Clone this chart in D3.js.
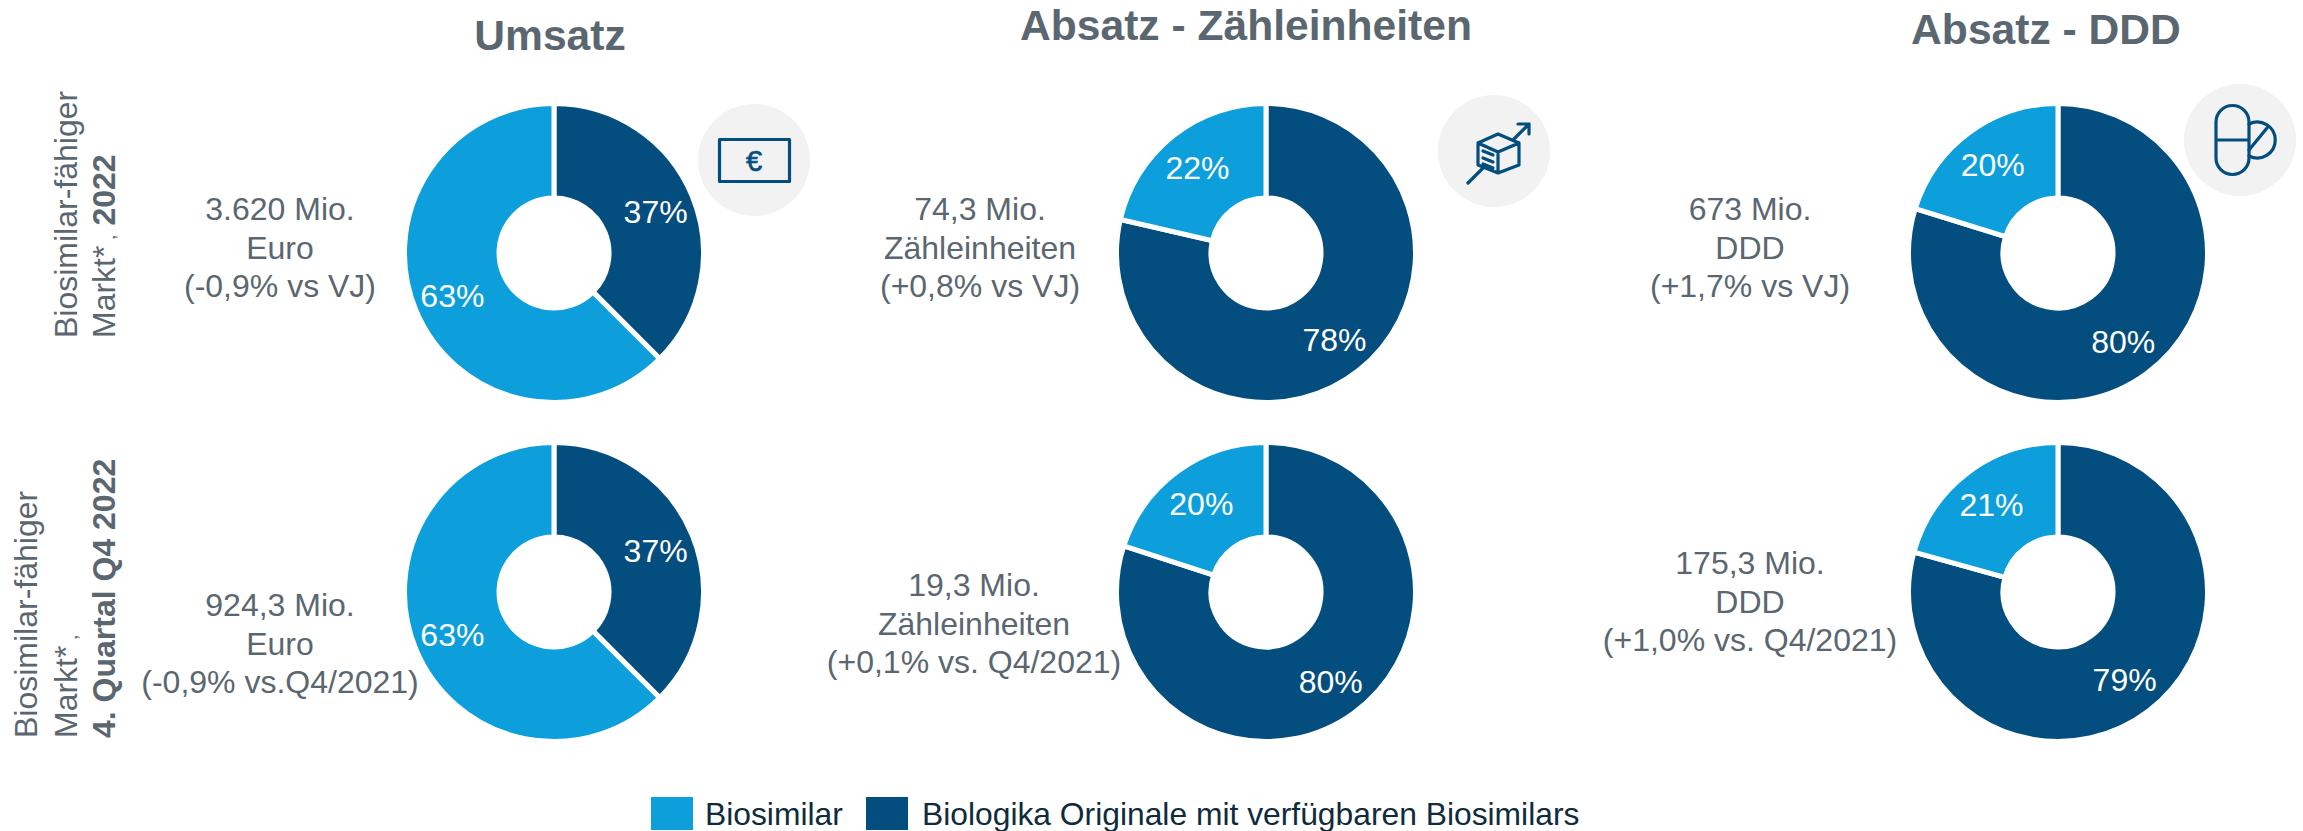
<!DOCTYPE html>
<html><head><meta charset="utf-8">
<script src="https://cdn.jsdelivr.net/npm/d3@7"></script>
<style>html,body{margin:0;padding:0;background:#fff}svg{display:block}text{font-family:"Liberation Sans",Arial,sans-serif}</style>
</head><body><svg id="c" width="2303" height="831"></svg>
<script>
const titles = ["Umsatz", "Absatz - Zähleinheiten", "Absatz - DDD"];
const legendLabels = ["Biosimilar", "Biologika Originale mit verfügbaren Biosimilars"];
const colors = ["#0c9fdc", "#034e7e"];
// printed percentages
const originalLabels2022 = [37, 78, 80];
const biosimilarLabels2022 = [63, 22, 20];
const originalLabelsQ4 = [37, 80, 79];
const biosimilarLabelsQ4 = [63, 20, 21];
// slice sizes
const originalSlices2022 = [37.5, 78.6, 79.8];
const originalSlicesQ4 = [37.5, 80, 79.3];
const notes2022 = [["3.620 Mio.", "Euro", "(-0,9% vs VJ)"], ["74,3 Mio.", "Zähleinheiten", "(+0,8% vs VJ)"], ["673 Mio.", "DDD", "(+1,7% vs VJ)"]];
const notesQ4 = [["924,3 Mio.", "Euro", "(-0,9% vs.Q4/2021)"], ["19,3 Mio.", "Zähleinheiten", "(+0,1% vs. Q4/2021)"], ["175,3 Mio.", "DDD", "(+1,0% vs. Q4/2021)"]];

const svg = d3.select("#c");
const grey = "#5b6770";
const colX = [554, 1266, 2058], rowY = [253, 592];
const titleY = [50, 40, 44], titleX = [550, 1246, 2046];
const noteX = [[280, 980, 1750], [280, 974, 1750]];
const noteY = [[220, 220, 220], [616, 596, 574]];
const noteStep = 38.5;
const R = 149.5, r = 55;

titles.forEach((t, i) => svg.append("text").attr("x", titleX[i]).attr("y", titleY[i])
  .attr("text-anchor", "middle").attr("font-size", 42.6).attr("font-weight", 700).attr("fill", grey).text(t));

// Icons
const ink = "#034e7e";
const iconCircles = [[754, 160], [1494, 151], [2240, 140]];
iconCircles.forEach(c => svg.append("circle").attr("cx", c[0]).attr("cy", c[1]).attr("r", 56).attr("fill", "#f2f2f2"));
const ic = svg.append("g").attr("fill", "none").attr("stroke", ink).attr("stroke-width", 3.2).attr("stroke-linejoin", "round").attr("stroke-linecap", "round");
ic.append("rect").attr("x", 719.5).attr("y", 139.5).attr("width", 70).attr("height", 42);
svg.append("text").attr("x", 754).attr("y", 171).attr("text-anchor", "middle").attr("font-size", 29).attr("fill", ink).attr("stroke", ink).attr("stroke-width", 0.6).text("€");
// box with arrow
ic.append("path").attr("d", "M1478 143L1498 134L1519 143L1519 165L1498 173L1478 165Z M1478 143L1498 152L1519 143 M1498 152L1498 173 M1483 151L1493 155 M1483 158L1493 162 M1483 164L1493 168");
ic.append("path").attr("d", "M1468 183L1483 168 M1513 140L1529 124 M1518 124L1529 124L1529 134");
// pill
ic.append("path").attr("d", "M2216 122A16.500 16.500 0 0 1 2249 122L2249 158A16.500 16.500 0 0 1 2216 158Z M2216 140L2249 140");
ic.append("path").attr("d", "M2249 124A18 18 0 1 1 2249 156 M2249 150L2267 128");

// Pies
const pie = d3.pie().sort(null).value(d => d.v);
const arc = d3.arc().innerRadius(r).outerRadius(R);
const labelArc = d3.arc().innerRadius(110).outerRadius(110);
[[originalSlices2022, originalLabels2022, biosimilarLabels2022, notes2022],
 [originalSlicesQ4, originalLabelsQ4, biosimilarLabelsQ4, notesQ4]].forEach((row, ri) => {
  titles.forEach((_, ci) => {
    const g = svg.append("g").attr("transform", `translate(${colX[ci]},${rowY[ri]})`);
    const data = [{v: row[0][ci], l: row[1][ci], c: colors[1]}, {v: 100 - row[0][ci], l: row[2][ci], c: colors[0]}];
    const arcs = pie(data);
    g.selectAll("path").data(arcs).join("path").attr("d", arc).attr("fill", d => d.data.c).attr("stroke", "#fff").attr("stroke-width", 5);
    g.selectAll("text").data(arcs).join("text").attr("transform", d => `translate(${labelArc.centroid(d)})`)
      .attr("dy", "0.37em").attr("text-anchor", "middle").attr("font-size", 32).attr("fill", "#fff").text(d => d.data.l + "%");
    row[3][ci].forEach((l, k) => svg.append("text").attr("x", noteX[ri][ci]).attr("y", noteY[ri][ci] + k * noteStep)
      .attr("text-anchor", "middle").attr("font-size", 32).attr("fill", grey).text(l));
  });
});

// Row labels
function rowLabel(x, y, parts) {
  const t = svg.append("text").attr("transform", `translate(${x},${y}) rotate(-90)`).attr("font-size", 32).attr("fill", grey);
  parts.forEach(p => t.append("tspan").attr("font-weight", p[1] ? 700 : 400).attr("font-size", p[2] || 32).text(p[0]));
}
rowLabel(77, 338, [["Biosimilar-fähiger"]]);
rowLabel(115, 338, [["Markt*"], [" ,", 0, 20], [" 2022", 1, 32]]);
rowLabel(37, 738, [["Biosimilar-fähiger"]]);
rowLabel(77, 738, [["Markt*"], [" ,", 0, 20]]);
rowLabel(115, 738, [["4. Quartal Q4 2022", 1]]);

// Legend
const legX = [651, 866], legT = [705, 922];
legendLabels.forEach((l, i) => {
  svg.append("rect").attr("x", legX[i]).attr("y", 797).attr("width", 42).attr("height", 33).attr("fill", colors[i]);
  svg.append("text").attr("x", legT[i]).attr("y", 825).attr("font-size", 31.8).attr("fill", "#0f2b3c").text(l);
});
</script></body></html>
